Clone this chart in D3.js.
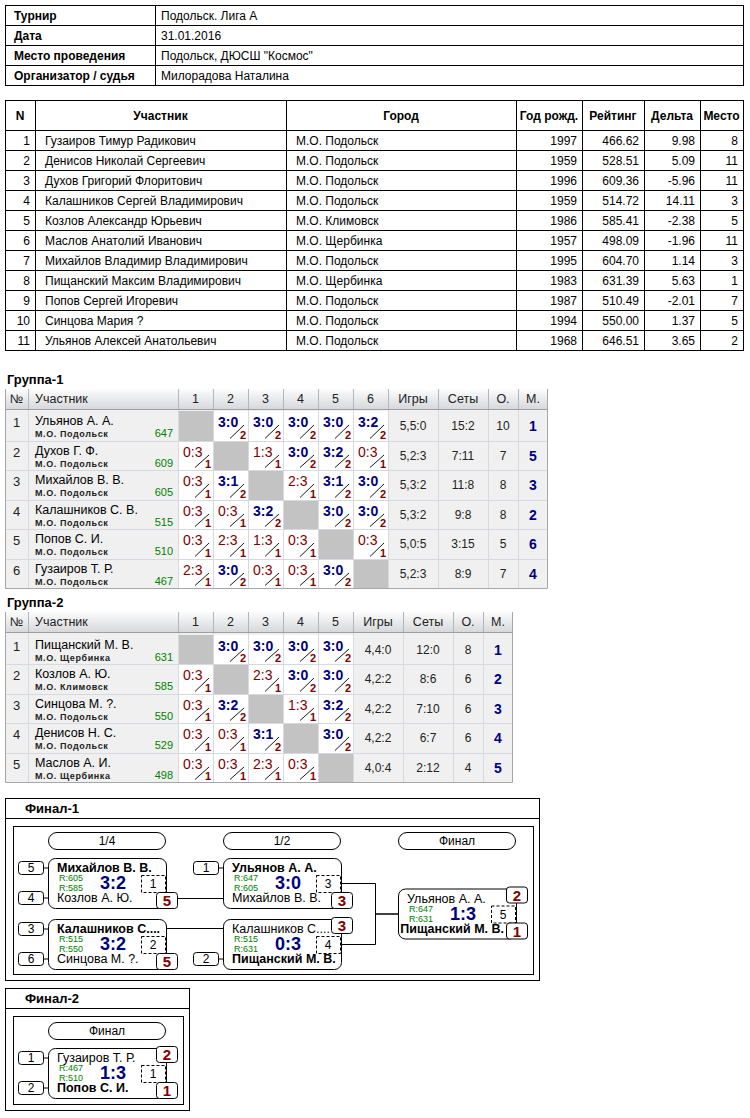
<!DOCTYPE html>
<html>
<head>
<meta charset="utf-8">
<script src="https://cdn.jsdelivr.net/npm/d3@7"></script>
<style>
  body { margin: 0; background: #fff; }
  svg { display: block; font-family: "Liberation Sans", Arial, sans-serif; }
</style>
</head>
<body>
<svg id="chart" width="750" height="1118"></svg>
<script>
// ---- tournament info ----
var infoLabels = ["Турнир", "Дата", "Место проведения", "Организатор / судья"];
var infoValues = ["Подольск. Лига А", "31.01.2016", "Подольск, ДЮСШ \"Космос\"", "Милорадова Наталина"];

// ---- players table ----
var playerColumns = ["N", "Участник", "Город", "Год рожд.", "Рейтинг", "Дельта", "Место"];
var playerNames = ["Гузаиров Тимур Радикович", "Денисов Николай Сергеевич", "Духов Григорий Флоритович",
  "Калашников Сергей Владимирович", "Козлов Александр Юрьевич", "Маслов Анатолий Иванович",
  "Михайлов Владимир Владимирович", "Пищанский Максим Владимирович", "Попов Сергей Игоревич",
  "Синцова Мария ?", "Ульянов Алексей Анатольевич"];
var playerCities = ["М.О. Подольск", "М.О. Подольск", "М.О. Подольск", "М.О. Подольск", "М.О. Климовск",
  "М.О. Щербинка", "М.О. Подольск", "М.О. Щербинка", "М.О. Подольск", "М.О. Подольск", "М.О. Подольск"];
var playerYears = [1997, 1959, 1996, 1959, 1986, 1957, 1995, 1983, 1987, 1994, 1968];
var playerRatings = [466.62, 528.51, 609.36, 514.72, 585.41, 498.09, 604.70, 631.39, 510.49, 550.00, 646.51];
var playerDeltas = [9.98, 5.09, -5.96, 14.11, -2.38, -1.96, 1.14, 5.63, -2.01, 1.37, 3.65];
var playerPlaces = [8, 11, 11, 3, 5, 11, 3, 1, 7, 5, 2];

// ---- group 1 ----
var g1Names = ["Ульянов А. А.", "Духов Г. Ф.", "Михайлов В. В.", "Калашников С. В.", "Попов С. И.", "Гузаиров Т. Р."];
var g1Cities = ["М.О. Подольск", "М.О. Подольск", "М.О. Подольск", "М.О. Подольск", "М.О. Подольск", "М.О. Подольск"];
var g1Ratings = [647, 609, 605, 515, 510, 467];
var g1Scores = [
  ["", "3:0", "3:0", "3:0", "3:0", "3:2"],
  ["0:3", "", "1:3", "3:0", "3:2", "0:3"],
  ["0:3", "3:1", "", "2:3", "3:1", "3:0"],
  ["0:3", "0:3", "3:2", "", "3:0", "3:0"],
  ["0:3", "2:3", "1:3", "0:3", "", "0:3"],
  ["2:3", "3:0", "0:3", "0:3", "3:0", ""]
];
var g1Games = ["5,5:0", "5,2:3", "5,3:2", "5,3:2", "5,0:5", "5,2:3"];
var g1Sets = ["15:2", "7:11", "11:8", "9:8", "3:15", "8:9"];
var g1Points = [10, 7, 8, 8, 5, 7];
var g1Places = [1, 5, 3, 2, 6, 4];

// ---- group 2 ----
var g2Names = ["Пищанский М. В.", "Козлов А. Ю.", "Синцова М. ?.", "Денисов Н. С.", "Маслов А. И."];
var g2Cities = ["М.О. Щербинка", "М.О. Климовск", "М.О. Подольск", "М.О. Подольск", "М.О. Щербинка"];
var g2Ratings = [631, 585, 550, 529, 498];
var g2Scores = [
  ["", "3:0", "3:0", "3:0", "3:0"],
  ["0:3", "", "2:3", "3:0", "3:0"],
  ["0:3", "3:2", "", "1:3", "3:2"],
  ["0:3", "0:3", "3:1", "", "3:0"],
  ["0:3", "0:3", "2:3", "0:3", ""]
];
var g2Games = ["4,4:0", "4,2:2", "4,2:2", "4,2:2", "4,0:4"];
var g2Sets = ["12:0", "8:6", "7:10", "6:7", "2:12"];
var g2Points = [8, 6, 6, 6, 4];
var g2Places = [1, 2, 3, 4, 5];

// ---- final 1 (bracket) ----
var f1Rounds = ["1/4", "1/2", "Финал"];
var f1Round = [0, 0, 1, 1, 2];
var f1Slot = [0, 1, 0, 1, 0.5];
var f1Top = ["Михайлов В. В.", "Калашников С....", "Ульянов А. А.", "Калашников С....", "Ульянов А. А."];
var f1Bottom = ["Козлов А. Ю.", "Синцова М. ?.", "Михайлов В. В.", "Пищанский М. В.", "Пищанский М. В."];
var f1TopRating = [605, 515, 647, 515, 647];
var f1BotRating = [585, 550, 605, 631, 631];
var f1Score = ["3:2", "3:2", "3:0", "0:3", "1:3"];
var f1Game = [1, 2, 3, 4, 5];
var f1SeedTop = [5, 3, 1, null, null];
var f1SeedBot = [4, 6, null, 2, null];
var f1PlaceTop = [null, null, null, 3, 2];
var f1PlaceBot = [5, 5, 3, null, 1];
var f1Next = [2, 3, 4, 4, null];
var f1NextRow = ["bottom", "top", "mid", "mid", null];

// ---- final 2 ----
var f2Rounds = ["Финал"];
var f2Round = [0];
var f2Slot = [0];
var f2Top = ["Гузаиров Т. Р."];
var f2Bottom = ["Попов С. И."];
var f2TopRating = [467];
var f2BotRating = [510];
var f2Score = ["1:3"];
var f2Game = [1];
var f2SeedTop = [1];
var f2SeedBot = [2];
var f2PlaceTop = [2];
var f2PlaceBot = [1];
var f2Next = [null];
var f2NextRow = [null];

var NAVY = "#000080", RED = "#800000", GREEN = "#008000";

var svg = d3.select("#chart");
svg.append("rect").attr("width", 750).attr("height", 1118).attr("fill", "#fff");

var defs = svg.append("defs");
var grad = defs.append("linearGradient").attr("id", "hdr")
  .attr("x1", 0).attr("y1", 0).attr("x2", 0).attr("y2", 1);
grad.append("stop").attr("offset", "0%").attr("stop-color", "#fcfcfc");
grad.append("stop").attr("offset", "100%").attr("stop-color", "#d6d8dc");

// ---------- info table ----------
var infoY = d3.scaleBand().domain(d3.range(infoLabels.length)).range([5, 85]);
var info = svg.append("g");
info.selectAll("rect.l").data(infoLabels).join("rect")
  .attr("x", 5.5).attr("y", function(d, i) { return infoY(i) + 0.5; })
  .attr("width", 150).attr("height", infoY.bandwidth())
  .attr("fill", "none").attr("stroke", "#000");
info.selectAll("rect.v").data(infoValues).join("rect")
  .attr("x", 155.5).attr("y", function(d, i) { return infoY(i) + 0.5; })
  .attr("width", 588).attr("height", infoY.bandwidth())
  .attr("fill", "none").attr("stroke", "#000");
info.selectAll("text.l").data(infoLabels).join("text")
  .attr("x", 14).attr("y", function(d, i) { return infoY(i) + 14.5; })
  .attr("font-size", 12).attr("font-weight", "bold").text(function(d) { return d; });
info.selectAll("text.v").data(infoValues).join("text")
  .attr("x", 161).attr("y", function(d, i) { return infoY(i) + 14.5; })
  .attr("font-size", 12).text(function(d) { return d; });

// ---------- players table ----------
var pEdges = [5, 35, 286, 516, 582, 644, 700, 743];
var pY = d3.scaleBand().domain(d3.range(playerNames.length)).range([130, 350]);
var pt = svg.append("g");
// header
pt.selectAll("rect.h").data(playerColumns).join("rect")
  .attr("x", function(d, i) { return pEdges[i] + 0.5; }).attr("y", 100.5)
  .attr("width", function(d, i) { return pEdges[i + 1] - pEdges[i]; }).attr("height", 30)
  .attr("fill", "#fff").attr("stroke", "#000");
pt.selectAll("text.h").data(playerColumns).join("text")
  .attr("x", function(d, i) { return (pEdges[i] + pEdges[i + 1]) / 2; }).attr("y", 120)
  .attr("text-anchor", "middle").attr("font-size", 12).attr("font-weight", "bold")
  .text(function(d) { return d; });

var pRows = playerNames.map(function(name, i) {
  return [
    { t: String(i + 1), a: "end" },
    { t: name, a: "start" },
    { t: playerCities[i], a: "start" },
    { t: String(playerYears[i]), a: "end" },
    { t: playerRatings[i].toFixed(2), a: "end" },
    { t: playerDeltas[i].toFixed(2), a: "end" },
    { t: String(playerPlaces[i]), a: "end" }
  ];
});
var prow = pt.selectAll("g.r").data(pRows).join("g")
  .attr("transform", function(d, i) { return "translate(0," + pY(i) + ")"; });
prow.selectAll("rect").data(function(d) { return d; }).join("rect")
  .attr("x", function(d, j) { return pEdges[j] + 0.5; }).attr("y", 0.5)
  .attr("width", function(d, j) { return pEdges[j + 1] - pEdges[j]; }).attr("height", pY.bandwidth())
  .attr("fill", "#fff").attr("stroke", "#000");
prow.selectAll("text").data(function(d) { return d; }).join("text")
  .attr("x", function(d, j) { return d.a === "end" ? pEdges[j + 1] - 5 : pEdges[j] + 10; })
  .attr("y", 14.5).attr("text-anchor", function(d) { return d.a; })
  .attr("font-size", 12).text(function(d) { return d.t; });

// ---------- round-robin groups ----------
function drawGroup(o) {
  var n = o.names.length;
  var g = svg.append("g");
  var colX = d3.scaleBand().domain(d3.range(n)).range([178, 178 + 35 * n]);
  var rowY = d3.scaleBand().domain(d3.range(n)).range(o.body);
  var statW = [50, 50, 30, 30];
  var edges = [5, 28].concat(d3.range(n + 1).map(function(k) { return 178 + 35 * k; }));
  var s = edges[edges.length - 1];
  statW.forEach(function(w) { s += w; edges.push(s); });
  var right = s;
  var heads = ["№", "Участник"].concat(d3.range(1, n + 1).map(String)).concat(["Игры", "Сеты", "О.", "М."]);
  var top = function(i) { return Math.round(rowY(i)); };
  var bot = function(i) { return Math.round(rowY(i) + rowY.bandwidth()); };

  g.append("text").attr("x", 7).attr("y", o.titleY).attr("font-size", 13).attr("font-weight", "bold").text(o.title);

  // header
  g.append("rect").attr("x", 5).attr("y", o.head[0]).attr("width", right - 5)
    .attr("height", o.head[1] - o.head[0]).attr("fill", "url(#hdr)");
  g.selectAll("line.hs").data(edges.slice(1, -1)).join("line")
    .attr("x1", function(d) { return d + 0.5; }).attr("x2", function(d) { return d + 0.5; })
    .attr("y1", o.head[0]).attr("y2", o.head[1]).attr("stroke", "#b3b5b9");
  g.append("line").attr("x1", 5).attr("x2", right).attr("y1", o.head[1] + 0.5).attr("y2", o.head[1] + 0.5)
    .attr("stroke", "#9c9ea2");
  g.selectAll("text.h").data(heads).join("text")
    .attr("x", function(d, i) { return i === 1 ? 35 : (edges[i] + edges[i + 1]) / 2; })
    .attr("y", o.head[0] + 14)
    .attr("text-anchor", function(d, i) { return i === 1 ? "start" : "middle"; })
    .attr("font-size", 12.5).attr("fill", "#222").text(function(d) { return d; });

  // body background
  g.append("rect").attr("x", 5).attr("y", o.head[1] + 1).attr("width", right - 5)
    .attr("height", o.body[1] - o.head[1] - 1).attr("fill", "#f0f0f0");

  var cells = [];
  o.scores.forEach(function(row, r) {
    row.forEach(function(sc, c) { cells.push({ r: r, c: c, s: sc }); });
  });
  g.selectAll("rect.sc").data(cells).join("rect")
    .attr("x", function(d) { return colX(d.c); }).attr("y", function(d) { return top(d.r); })
    .attr("width", colX.bandwidth()).attr("height", function(d) { return bot(d.r) - top(d.r); })
    .attr("fill", function(d) { return d.r === d.c ? "#c3c3c3" : "#fff"; });

  // grid lines
  g.selectAll("line.rh").data(d3.range(1, n)).join("line")
    .attr("x1", 5).attr("x2", right)
    .attr("y1", function(i) { return top(i) + 0.5; }).attr("y2", function(i) { return top(i) + 0.5; })
    .attr("stroke", "#d6d9e0");
  g.selectAll("line.cv").data(edges.slice(1, -1)).join("line")
    .attr("x1", function(d) { return d + 0.5; }).attr("x2", function(d) { return d + 0.5; })
    .attr("y1", o.head[1] + 1).attr("y2", o.body[1]).attr("stroke", "#d6d9e0");
  // outer border
  g.append("path")
    .attr("d", "M5.5," + o.head[0] + "V" + (o.body[1] + 0.5) + "H" + (right - 0.5) + "V" + o.head[0])
    .attr("fill", "none").attr("stroke", "#a4a6aa");

  // scores
  var played = cells.filter(function(d) { return d.r !== d.c; });
  var sc = g.selectAll("g.cell").data(played).join("g")
    .attr("transform", function(d) { return "translate(" + colX(d.c) + "," + top(d.r) + ")"; });
  sc.append("text").attr("x", 5).attr("y", 16).attr("font-size", 14)
    .attr("font-weight", function(d) { return win(d.s) ? "bold" : "normal"; })
    .attr("fill", function(d) { return win(d.s) ? NAVY : RED; })
    .text(function(d) { return d.s; });
  sc.append("line").attr("x1", 17).attr("y1", function(d) { return bot(d.r) - top(d.r) - 2.5; })
    .attr("x2", 31).attr("y2", 14).attr("stroke", "#000").attr("stroke-width", 0.9);
  sc.append("text").attr("x", 33).attr("y", function(d) { return bot(d.r) - top(d.r) - 2; })
    .attr("text-anchor", "end").attr("font-size", 11).attr("font-weight", "bold").attr("fill", RED)
    .text(function(d) { return win(d.s) ? 2 : 1; });

  // participant columns
  var rows = g.selectAll("g.row").data(o.names).join("g")
    .attr("transform", function(d, i) { return "translate(0," + top(i) + ")"; });
  rows.append("text").attr("x", 16.5).attr("y", 16).attr("text-anchor", "middle")
    .attr("font-size", 13).attr("fill", "#222").text(function(d, i) { return i + 1; });
  rows.append("text").attr("x", 35).attr("y", 13.5).attr("font-size", 12.5)
    .text(function(d) { return d; });
  rows.append("text").attr("x", 35).attr("y", 26).attr("font-size", 9).attr("font-weight", "bold")
    .attr("letter-spacing", 0.6).attr("fill", "#222").text(function(d, i) { return o.cities[i]; });
  rows.append("text").attr("x", 173).attr("y", 26).attr("text-anchor", "end").attr("font-size", 11)
    .attr("fill", GREEN).text(function(d, i) { return o.ratings[i]; });

  var statCols = [o.games, o.sets, o.points];
  statCols.forEach(function(vals, k) {
    var e = edges.length - 5 + k;
    rows.append("text").attr("x", (edges[e] + edges[e + 1]) / 2).attr("y", 19)
      .attr("text-anchor", "middle").attr("font-size", 12).attr("fill", "#222")
      .text(function(d, i) { return vals[i]; });
  });
  rows.append("text").attr("x", (edges[edges.length - 2] + right) / 2).attr("y", 20)
    .attr("text-anchor", "middle").attr("font-size", 14).attr("font-weight", "bold").attr("fill", NAVY)
    .text(function(d, i) { return o.places[i]; });
}

function win(s) {
  var p = s.split(":");
  return +p[0] > +p[1];
}

drawGroup({
  title: "Группа-1", titleY: 384, head: [389, 409], body: [411, 588],
  names: g1Names, cities: g1Cities, ratings: g1Ratings, scores: g1Scores,
  games: g1Games, sets: g1Sets, points: g1Points, places: g1Places
});
drawGroup({
  title: "Группа-2", titleY: 607, head: [612, 632], body: [635, 782],
  names: g2Names, cities: g2Cities, ratings: g2Ratings, scores: g2Scores,
  games: g2Games, sets: g2Sets, points: g2Points, places: g2Places
});

// ---------- brackets ----------
function drawFinal(o) {
  var g = svg.append("g");
  var f = o.frame; // outer box
  g.append("rect").attr("x", f[0] + 0.5).attr("y", f[1] + 0.5).attr("width", f[2] - f[0])
    .attr("height", f[3] - f[1]).attr("fill", "#fff").attr("stroke", "#000");
  g.append("line").attr("x1", f[0]).attr("x2", f[2]).attr("y1", f[1] + 20.5).attr("y2", f[1] + 20.5)
    .attr("stroke", "#000");
  g.append("text").attr("x", f[0] + 20).attr("y", f[1] + 15).attr("font-size", 13)
    .attr("font-weight", "bold").text(o.title);
  g.append("rect").attr("x", f[0] + 8.5).attr("y", f[1] + 28.5).attr("width", f[2] - f[0] - 14)
    .attr("height", f[3] - f[1] - 34).attr("fill", "#fff").attr("stroke", "#000");

  var roundX = d3.scaleLinear().domain([0, 2]).range([48, 398]);
  var slotY = d3.scaleLinear().domain([0, 1]).range([o.y0, o.y0 + 61]);
  var W = 118, H = 50;

  // round pills
  var pills = g.selectAll("g.pill").data(o.rounds).join("g")
    .attr("transform", function(d, i) { return "translate(" + roundX(i) + "," + (o.y0 - 26) + ")"; });
  pills.append("rect").attr("x", 0.5).attr("y", 0.5).attr("width", 117).attr("height", 17)
    .attr("rx", 8.5).attr("fill", "#fff").attr("stroke", "#000");
  pills.append("text").attr("x", 59).attr("y", 13).attr("text-anchor", "middle").attr("font-size", 12)
    .text(function(d) { return d; });

  var matches = o.top.map(function(t, i) {
    return {
      x: roundX(o.round[i]), y: slotY(o.slot[i]), top: t, bottom: o.bottom[i],
      rt: o.topRating[i], rb: o.botRating[i], score: o.score[i], game: o.game[i],
      seedTop: o.seedTop[i], seedBot: o.seedBot[i], placeTop: o.placeTop[i], placeBot: o.placeBot[i],
      next: o.next[i], nextRow: o.nextRow[i]
    };
  });

  // connectors
  matches.forEach(function(m) {
    if (m.next === null) return;
    var n = matches[m.next];
    if (m.nextRow === "mid") {
      var mx = n.x - 23;
      g.append("path")
        .attr("d", "M" + (m.x + W) + "," + (m.y + 25.5) + "H" + (mx + 0.5) + "V" + (n.y + 25.5) + "H" + n.x)
        .attr("fill", "none").attr("stroke", "#000");
    } else {
      var ly = n.y + (m.nextRow === "top" ? 9.5 : 40.5);
      g.append("line").attr("x1", m.x + W).attr("x2", n.x).attr("y1", ly).attr("y2", ly).attr("stroke", "#000");
    }
  });

  var mg = g.selectAll("g.match").data(matches).join("g")
    .attr("transform", function(d) { return "translate(" + d.x + "," + d.y + ")"; });

  // seeds
  [["seedTop", 3], ["seedBot", 33]].forEach(function(s) {
    var sg = mg.filter(function(d) { return d[s[0]] !== null; });
    sg.append("line").attr("x1", -4).attr("x2", 0).attr("y1", s[1] + 7).attr("y2", s[1] + 7).attr("stroke", "#000");
    sg.append("rect").attr("x", -29.5).attr("y", s[1] + 0.5).attr("width", 25).attr("height", 13).attr("rx", 3)
      .attr("fill", "#fff").attr("stroke", "#000");
    sg.append("text").attr("x", -17).attr("y", s[1] + 11).attr("text-anchor", "middle").attr("font-size", 12)
      .text(function(d) { return d[s[0]]; });
  });

  mg.append("rect").attr("x", 0.5).attr("y", 0.5).attr("width", W).attr("height", H).attr("rx", 7)
    .attr("fill", "#fff").attr("stroke", "#000");
  mg.append("text").attr("x", 9).attr("y", 14).attr("font-size", 12.5)
    .attr("font-weight", function(d) { return win(d.score) ? "bold" : "normal"; })
    .text(function(d) { return d.top; });
  mg.append("text").attr("x", 11).attr("y", 23).attr("font-size", 9).attr("fill", GREEN)
    .text(function(d) { return "R:" + d.rt; });
  mg.append("text").attr("x", 11).attr("y", 33).attr("font-size", 9).attr("fill", GREEN)
    .text(function(d) { return "R:" + d.rb; });
  mg.append("text").attr("class", "bname").attr("x", 9).attr("y", 44).attr("font-size", 12.5)
    .attr("font-weight", function(d) { return win(d.score) ? "normal" : "bold"; })
    .text(function(d) { return d.bottom; });
  mg.append("text").attr("x", 65).attr("y", 31).attr("text-anchor", "middle").attr("font-size", 18)
    .attr("font-weight", "bold").attr("fill", NAVY).text(function(d) { return d.score; });
  mg.append("rect").attr("x", 93.5).attr("y", 17.5).attr("width", 24).attr("height", 17)
    .attr("fill", "#fff").attr("stroke", "#000").attr("stroke-dasharray", "3,2");
  mg.append("text").attr("x", 105).attr("y", 30).attr("text-anchor", "middle").attr("font-size", 12)
    .text(function(d) { return d.game; });
  // solid right edge between the dashed box and the border
  mg.append("line").attr("x1", W + 0.5).attr("x2", W + 0.5).attr("y1", 7).attr("y2", 43).attr("stroke", "#000");

  // keep long bottom names clear of the place badge
  mg.filter(function(d) { return d.placeBot !== null; }).selectAll("text.bname").each(function() {
    var len = this.getComputedTextLength();
    if (9 + len > 106) d3.select(this).attr("x", Math.max(2, 106 - len));
  });

  // place badges
  [["placeTop", -2], ["placeBot", 34]].forEach(function(s) {
    var bg = mg.filter(function(d) { return d[s[0]] !== null; });
    bg.append("rect").attr("x", 108.5).attr("y", s[1] + 0.5).attr("width", 21).attr("height", 16).attr("rx", 3)
      .attr("fill", "#fff").attr("stroke", "#000");
    bg.append("text").attr("x", 119).attr("y", s[1] + 14).attr("text-anchor", "middle").attr("font-size", 15)
      .attr("font-weight", "bold").attr("fill", RED).text(function(d) { return d[s[0]]; });
  });
}

drawFinal({
  title: "Финал-1", frame: [5, 798, 539, 980], y0: 858, rounds: f1Rounds,
  round: f1Round, slot: f1Slot, top: f1Top, bottom: f1Bottom, topRating: f1TopRating, botRating: f1BotRating,
  score: f1Score, game: f1Game, seedTop: f1SeedTop, seedBot: f1SeedBot,
  placeTop: f1PlaceTop, placeBot: f1PlaceBot, next: f1Next, nextRow: f1NextRow
});
drawFinal({
  title: "Финал-2", frame: [5, 988, 189, 1110], y0: 1048, rounds: f2Rounds,
  round: f2Round, slot: f2Slot, top: f2Top, bottom: f2Bottom, topRating: f2TopRating, botRating: f2BotRating,
  score: f2Score, game: f2Game, seedTop: f2SeedTop, seedBot: f2SeedBot,
  placeTop: f2PlaceTop, placeBot: f2PlaceBot, next: f2Next, nextRow: f2NextRow
});
</script>
</body>
</html>
